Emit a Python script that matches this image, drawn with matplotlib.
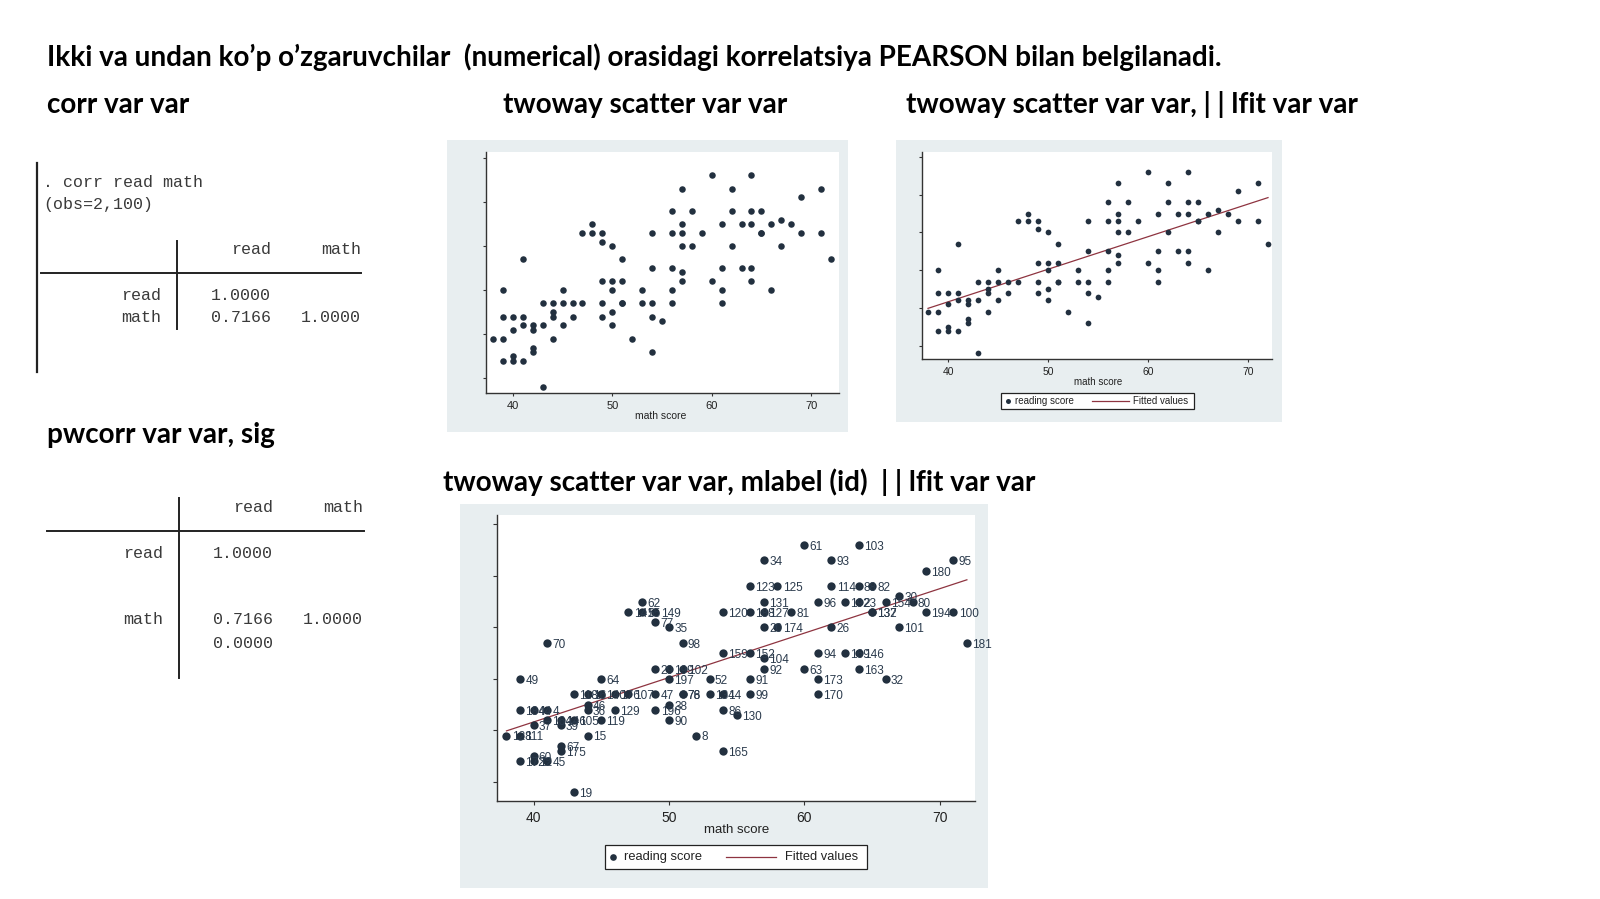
import numpy as np
import matplotlib
matplotlib.use("Agg")
import matplotlib.pyplot as plt
from matplotlib.patches import Rectangle
from matplotlib.lines import Line2D

W, H = 1600, 899

# ---------------- data ----------------
math_score = [60, 64, 57, 62, 71, 69, 56, 58, 62, 64, 65, 67,
              48, 57, 61, 63, 64, 66, 68,
              47, 48, 49, 54, 56, 57, 59, 65, 65, 69, 71,
              49, 50, 57, 58, 62, 67, 41, 51, 72,
              54, 56, 61, 63, 64, 57,
              49, 50, 51, 57, 60, 64,
              39, 45, 50, 53, 56, 61, 66,
              43, 44, 45, 46, 47, 49, 51, 51, 53, 54, 56, 61,
              44, 50, 39, 40, 41, 44, 46, 49, 54, 55,
              41, 42, 43, 45, 50, 40, 42,
              38, 39, 44, 52, 42, 42, 54, 40, 39, 40, 41, 43]
read_score = [76, 76, 73, 73, 73, 71, 68, 68, 68, 68, 68, 66,
              65, 65, 65, 65, 65, 65, 65,
              63, 63, 63, 63, 63, 63, 63, 63, 63, 63, 63,
              61, 60, 60, 60, 60, 60, 57, 57, 57,
              55, 55, 55, 55, 55, 54,
              52, 52, 52, 52, 52, 52,
              50, 50, 50, 50, 50, 50, 50,
              47, 47, 47, 47, 47, 47, 47, 47, 47, 47, 47, 47,
              45, 45, 44, 44, 44, 44, 44, 44, 44, 43,
              42, 42, 42, 42, 42, 41, 41,
              39, 39, 39, 39, 37, 36, 36, 35, 34, 34, 34, 28]
ids = ["61", "103", "34", "93", "95", "180", "123", "125", "114", "88", "82", "30",
       "62", "131", "96", "192", "23", "154", "80",
       "141", "55", "149", "120", "188", "127", "81", "137", "132", "194", "100",
       "77", "35", "20", "174", "26", "101", "70", "98", "181",
       "159", "152", "94", "169", "146", "104",
       "29", "199", "102", "92", "63", "163",
       "49", "64", "197", "52", "91", "173", "32",
       "118", "16", "140", "176", "107", "47", "76", "78", "134", "14", "99", "170",
       "46", "38", "184", "44", "4", "36", "129", "196", "86", "130",
       "164", "146", "105", "119", "90", "37", "39",
       "128", "111", "15", "8", "67", "175", "165", "60", "172", "12", "45", "19"]

x_ticks = [40, 50, 60, 70]
y_ticks = [30, 40, 50, 60, 70, 80]

title = "Ikki va undan ko\u2019p o\u2019zgaruvchilar  (numerical) orasidagi korrelatsiya PEARSON bilan belgilanadi."
headers = ["corr var var", "twoway scatter var var",
           "twoway scatter var var, | | lfit var var",
           "pwcorr var var, sig",
           "twoway scatter var var, mlabel (id)  | | lfit var var"]

corr_cmd = [". corr read math", "(obs=2,100)"]
tab_cols = ["read", "math"]
tab_rows = ["read", "math"]
corr_vals = [["1.0000", ""], ["0.7166", "1.0000"]]
sig_vals = ["0.0000"]

legend_labels = ["reading score", "Fitted values"]
xlab = "math score"

# ---------------- helpers ----------------
def fx(x):
    return x / W

def fy(y):
    return 1 - y / H

fig = plt.figure(figsize=(16, 8.99), dpi=100)
fig.patch.set_facecolor("white")

MK = "#22303f"
FIT = "#8e3440"
PANEL = "#e8eef0"
TXT = "#3a3a3a"

def panel(x0, y0, x1, y1):
    fig.patches.append(Rectangle((fx(x0), fy(y1)), fx(x1 - x0), (y1 - y0) / H,
                                 transform=fig.transFigure, facecolor=PANEL,
                                 edgecolor="none", zorder=-5))

def hline(x0, x1, y, lw=1.4, color="#222222"):
    fig.add_artist(Line2D([fx(x0), fx(x1)], [fy(y), fy(y)], transform=fig.transFigure,
                          color=color, lw=lw))

def vline(x, y0, y1, lw=1.4, color="#222222"):
    fig.add_artist(Line2D([fx(x), fx(x)], [fy(y0), fy(y1)], transform=fig.transFigure,
                          color=color, lw=lw))

def mk_axes(x0, y0, x1, y1, xlim, ylim, ms, fs, tl, tpad, fit=False, labels=False, lfs=8.5):
    ax = fig.add_axes([fx(x0), fy(y1), fx(x1 - x0), (y1 - y0) / H])
    ax.set_zorder(1)
    ax.set_facecolor("white")
    ax.scatter(math_score, read_score, s=ms, color=MK, zorder=3, linewidths=0)
    if fit:
        b, a = np.polyfit(math_score, read_score, 1)
        xs = np.array([min(math_score), max(math_score)])
        ax.plot(xs, a + b * xs, color=FIT, lw=0.9, zorder=2)
    if labels:
        for xv, yv, s in zip(math_score, read_score, ids):
            ax.annotate(s, (xv, yv), xytext=(3.8, -1.4), textcoords="offset points",
                        fontsize=lfs, color="#2a3a4c", va="center", ha="left",
                        family="Liberation Sans", zorder=4, annotation_clip=False)
    ax.set_xlim(*xlim)
    ax.set_ylim(*ylim)
    ax.set_xticks(x_ticks)
    ax.set_xticklabels([str(t) for t in x_ticks], family="Liberation Sans")
    ax.set_yticks(y_ticks)
    ax.set_yticklabels([])
    for sp in ["top", "right"]:
        ax.spines[sp].set_visible(False)
    for sp in ["left", "bottom"]:
        ax.spines[sp].set_color("#333333")
        ax.spines[sp].set_linewidth(1.0)
    ax.tick_params(axis="both", length=tl, width=0.8, color="#333333",
                   labelsize=fs, pad=tpad, labelcolor="#222222")
    return ax

# ---------------- headings ----------------
t = fig.text(fx(47), fy(57), title, fontsize=20, fontweight="bold", family="Lato",
             va="center", ha="left", color="black")
fig.canvas.draw()
w = t.get_window_extent().width
fs_head = 20 * (1224 - 47) / w
t.set_fontsize(fs_head)
head_pos = [(47, 105), (503, 105), (906, 105), (47, 435), (443, 482)]
for (hx, hy), s in zip(head_pos, headers):
    fig.text(fx(hx), fy(hy), s, fontsize=fs_head, fontweight="bold", family="Lato",
             va="center", ha="left", color="black")

# ---------------- Stata output tables ----------------
MONO = dict(family="Liberation Mono", fontsize=12, color=TXT, va="center")
vline(37, 163, 372, lw=1.6)
fig.text(fx(43), fy(183), corr_cmd[0], ha="left", **MONO)
fig.text(fx(43), fy(205), corr_cmd[1], ha="left", **MONO)
fig.text(fx(271), fy(250), tab_cols[0], ha="right", **MONO)
fig.text(fx(361), fy(250), tab_cols[1], ha="right", **MONO)
hline(41, 361, 273)
vline(177, 241, 329)
fig.text(fx(161), fy(295), tab_rows[0], ha="right", **MONO)
fig.text(fx(271), fy(295), corr_vals[0][0], ha="right", **MONO)
fig.text(fx(161), fy(317), tab_rows[1], ha="right", **MONO)
fig.text(fx(271), fy(317), corr_vals[1][0], ha="right", **MONO)
fig.text(fx(361), fy(317), corr_vals[1][1], ha="right", **MONO)

fig.text(fx(273), fy(508), tab_cols[0], ha="right", **MONO)
fig.text(fx(363), fy(508), tab_cols[1], ha="right", **MONO)
hline(47, 364, 531)
vline(179, 498, 678)
fig.text(fx(163), fy(553), tab_rows[0], ha="right", **MONO)
fig.text(fx(273), fy(553), corr_vals[0][0], ha="right", **MONO)
fig.text(fx(163), fy(620), tab_rows[1], ha="right", **MONO)
fig.text(fx(273), fy(620), corr_vals[1][0], ha="right", **MONO)
fig.text(fx(363), fy(620), corr_vals[1][1], ha="right", **MONO)
fig.text(fx(273), fy(643), sig_vals[0], ha="right", **MONO)

# ---------------- scatter panels ----------------
panel(447, 140, 848, 432)
ax1 = mk_axes(486, 152, 839, 393, (37.3, 72.8), (26.7, 81.3), ms=22, fs=8, tl=2.5, tpad=3.5)
fig.text(fx(661), fy(416), xlab, fontsize=7.5, family="Liberation Sans", ha="center",
         va="center", color="#222222")

panel(896, 140, 1282, 422)
ax2 = mk_axes(922, 152, 1272, 359, (37.4, 72.4), (26.5, 81.3), ms=17, fs=7.5, tl=2.5,
              tpad=3.0, fit=True)
fig.text(fx(1098), fy(382), xlab, fontsize=7, family="Liberation Sans", ha="center",
         va="center", color="#222222")

panel(460, 504, 988, 888)
ax3 = mk_axes(497, 515, 975, 801, (37.3, 72.6), (26.3, 81.8), ms=36, fs=10, tl=3,
              tpad=4.5, fit=True, labels=True)
fig.text(fx(737), fy(830), xlab, fontsize=9.5, family="Liberation Sans", ha="center",
         va="center", color="#222222")

# ---------------- manual legends ----------------
def legend(x0, y0, x1, y1, mx, tx1, lx0, lx1, tx2, fs, msz):
    fig.patches.append(Rectangle((fx(x0), fy(y1)), fx(x1 - x0), (y1 - y0) / H,
                                 transform=fig.transFigure, facecolor="white",
                                 edgecolor="#222222", lw=0.9, zorder=5))
    yc = (y0 + y1) / 2
    fig.add_artist(Line2D([fx(mx)], [fy(yc)], transform=fig.transFigure, marker="o",
                          ms=msz, color=MK, mew=0, zorder=6))
    fig.text(fx(tx1), fy(yc), legend_labels[0], fontsize=fs, family="Liberation Sans",
             va="center", ha="left", color="#222222", zorder=6)
    fig.add_artist(Line2D([fx(lx0), fx(lx1)], [fy(yc), fy(yc)], transform=fig.transFigure,
                          color=FIT, lw=0.9, zorder=6))
    fig.text(fx(tx2), fy(yc), legend_labels[1], fontsize=fs, family="Liberation Sans",
             va="center", ha="left", color="#222222", zorder=6)

legend(1001, 393, 1194, 409, 1008, 1015, 1092, 1129, 1133, 7, 3.6)
legend(605, 845, 867, 869, 613, 624, 726, 776, 785, 9.3, 4.8)

fig.savefig("out.png", dpi=100, facecolor="white")
